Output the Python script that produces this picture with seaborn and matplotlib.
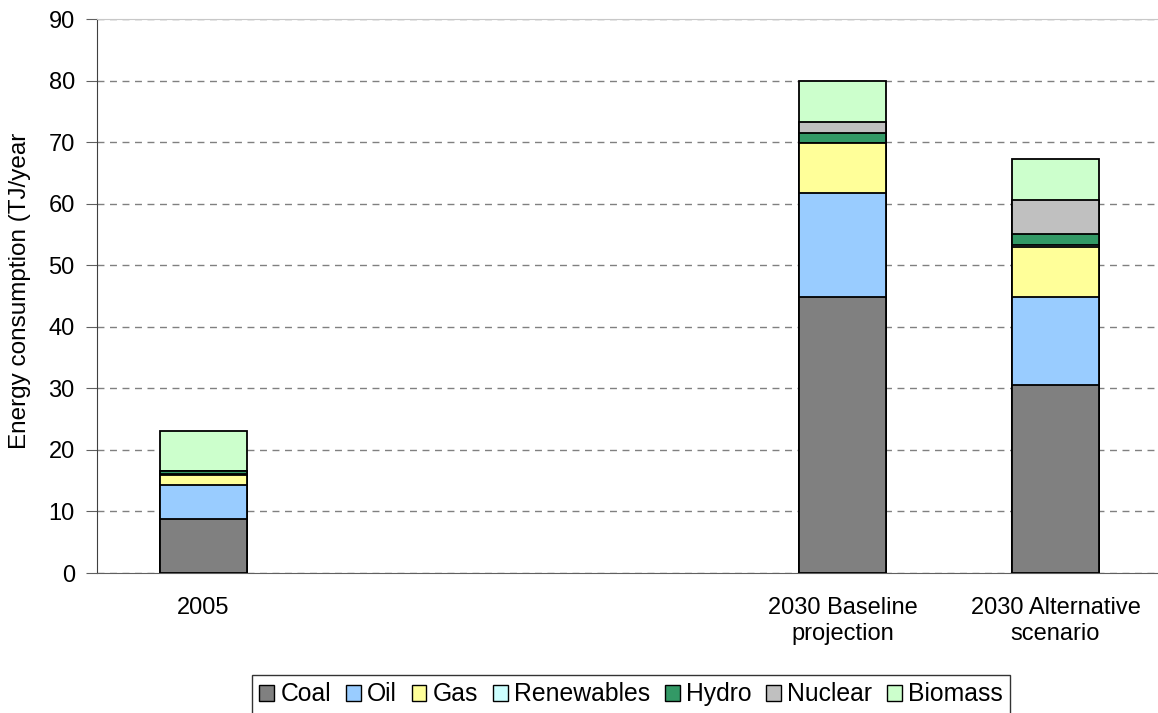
import pandas as pd
import matplotlib.pyplot as plt
import seaborn as sns
import numpy as np

# categories (two empty slots between 2005 and 2030)
categories = ['2005', ' ', '  ', '2030 Baseline\nprojection', '2030 Alternative\nscenario']
cases = ['2005', '2030 Baseline\nprojection', '2030 Alternative\nscenario']

sources = ['Coal', 'Oil', 'Gas', 'Renewables', 'Hydro', 'Nuclear', 'Biomass']
coal = [8.8, 44.9, 30.5]
oil = [5.5, 16.9, 14.4]
gas = [1.6, 8.0, 8.0]
renewables = [0.25, 0.1, 0.35]
hydro = [0.35, 1.6, 1.8]
nuclear = [0.0, 1.7, 5.5]
biomass = [6.5, 6.7, 6.7]
colors = ['#808080', '#99CCFF', '#FFFF99', '#CCFFFF', '#339966', '#C0C0C0', '#CCFFCC']

df = pd.DataFrame({'case': cases, 'Coal': coal, 'Oil': oil, 'Gas': gas,
                   'Renewables': renewables, 'Hydro': hydro,
                   'Nuclear': nuclear, 'Biomass': biomass})
cum = df[sources].cumsum(axis=1)
cum['case'] = df['case']

sns.set_style('white')
plt.rcParams['font.family'] = ['Liberation Sans', 'DejaVu Sans']
plt.rcParams['text.color'] = 'black'
plt.rcParams['axes.labelcolor'] = 'black'
plt.rcParams['xtick.color'] = 'black'
plt.rcParams['ytick.color'] = 'black'

fig = plt.figure(figsize=(11.58, 7.13), dpi=100)
ax = fig.add_axes([97 / 1158, 1 - 573 / 713, 1065 / 1158, 554 / 713])

# stacked bars: draw cumulative totals from the top down
for src, col in zip(sources[::-1], colors[::-1]):
    sns.barplot(data=cum, x='case', y=src, order=categories, color=col,
                width=0.404, edgecolor='black', linewidth=1.3, ax=ax,
                saturation=1, zorder=3)

ax.set_ylim(0, 90)
ax.set_xlim(-0.5, 4.5)
ax.set_yticks(np.arange(0, 91, 10))
ax.yaxis.grid(True, linestyle=(0, (5, 4)), color='#808080', linewidth=1.0, zorder=0)
ax.set_axisbelow(True)
ax.spines['right'].set_visible(False)
ax.spines['top'].set_color('#c8c8c8')
ax.spines['left'].set_color('#404040')
ax.spines['bottom'].set_color('#606060')
ax.tick_params(axis='y', left=True, length=8, color='#606060', labelsize=17, pad=8)
ax.tick_params(axis='x', bottom=False, labelsize=17, pad=14)
ax.set_xlabel('')
ax.set_ylabel('Energy consumption (TJ/year', fontsize=17.5)
ax.yaxis.set_label_coords(-0.062, 0.51)

handles = [plt.Rectangle((0, 0), 1, 1, facecolor=c, edgecolor='black', linewidth=1) for c in colors]
leg = fig.legend(handles, sources, loc='upper center', bbox_to_anchor=(0.545, 0.0533),
                 ncol=7, fontsize=17.8, frameon=True, fancybox=False, edgecolor='black',
                 handlelength=0.6, handleheight=0.6, handletextpad=0.25,
                 columnspacing=0.6, borderpad=0.3, borderaxespad=0)
leg.get_frame().set_linewidth(1.0)

plt.savefig('out.png', dpi=100)
